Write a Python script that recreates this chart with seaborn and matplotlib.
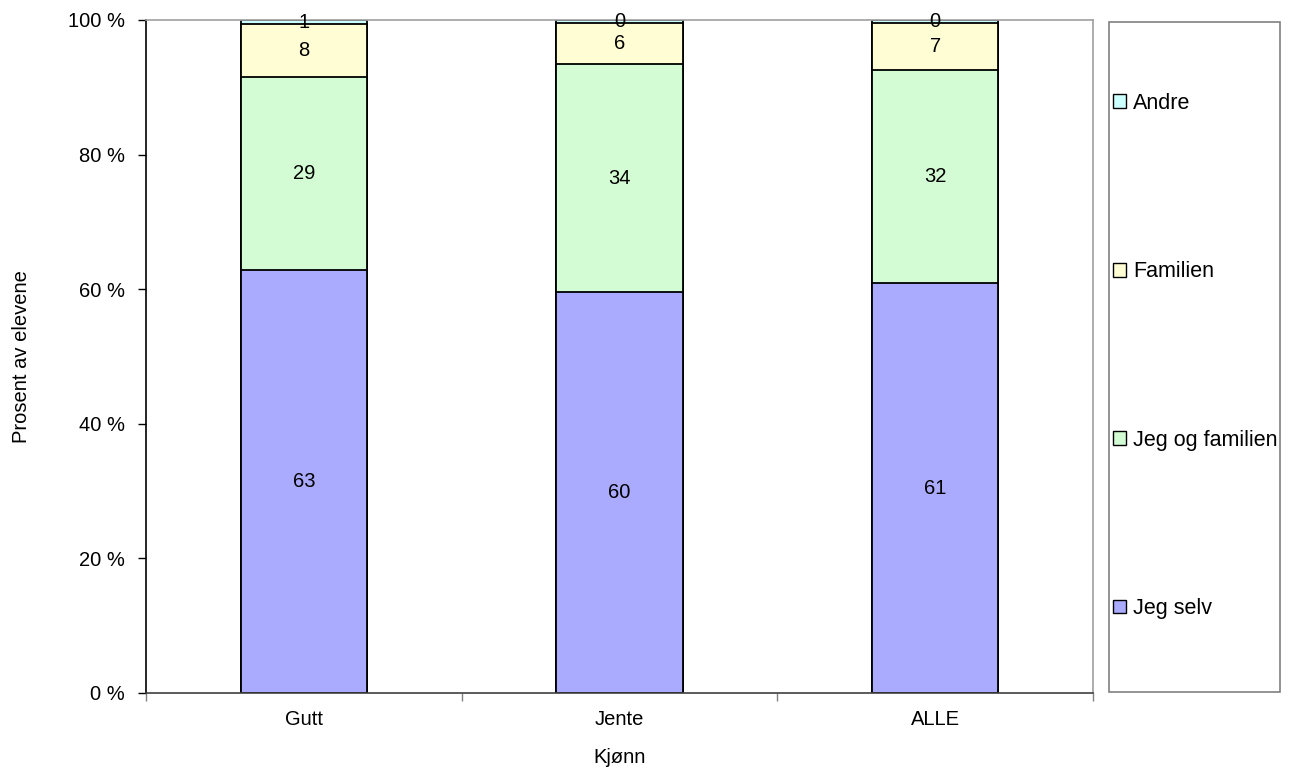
import matplotlib
matplotlib.use("Agg")
import matplotlib.pyplot as plt
from matplotlib.patches import Patch, Rectangle
import numpy as np
import pandas as pd
import seaborn as sns

# ---- data (percent of pupils) ----
categories = ["Gutt", "Jente", "ALLE"]
jeg_selv = [62.8, 59.6, 60.9]
jeg_og_familien = [28.8, 33.8, 31.7]
familien = [7.8, 6.2, 7.0]
andre = [0.6, 0.4, 0.4]

series_names = ["Jeg selv", "Jeg og familien", "Familien", "Andre"]
series_values = [jeg_selv, jeg_og_familien, familien, andre]
series_colors = ["#AAAAFF", "#D4FCD4", "#FFFDD4", "#CCFFFF"]

x_label = "Kjønn"
y_label = "Prosent av elevene"
y_ticks = [0, 20, 40, 60, 80, 100]
y_tick_labels = ["0 %", "20 %", "40 %", "60 %", "80 %", "100 %"]

sns.set_theme(style="white")
plt.rcParams["font.family"] = ["Liberation Sans", "DejaVu Sans"]
for key in ["text.color", "axes.labelcolor", "xtick.color", "ytick.color"]:
    plt.rcParams[key] = "black"
FS = 14.5

fig = plt.figure(figsize=(12.89, 7.73), dpi=100)
ax = fig.add_axes([146 / 1289, 1 - 693 / 773, (1093 - 146) / 1289, (693 - 20) / 773])

vals = np.array(series_values)
cums = np.cumsum(vals, axis=0)

# draw stacked bars: tallest cumulative first
for k in range(len(series_names) - 1, -1, -1):
    df = pd.DataFrame({"cat": categories, "val": cums[k]})
    sns.barplot(data=df, x="cat", y="val", order=categories, color=series_colors[k],
                saturation=1, width=0.4, edgecolor="black", linewidth=1.3, ax=ax, errorbar=None)

# labels centered in segments
for k in range(len(series_names)):
    for i in range(len(categories)):
        mid = cums[k][i] - vals[k][i] / 2
        ax.text(i, mid, f"{int(round(vals[k][i]))}", ha="center", va="center",
                fontsize=FS, color="black")

ax.set_xlim(-0.5, len(categories) - 0.5)
ax.set_ylim(0, 100)
ax.set_yticks(y_ticks)
ax.set_yticklabels(y_tick_labels, fontsize=FS)
ax.set_xticks(range(len(categories)))
ax.set_xticklabels(categories, fontsize=FS)
ax.set_xticks(np.arange(-0.5, len(categories), 1.0), minor=True)
ax.tick_params(axis="x", which="major", length=0, pad=12, labelcolor="black")
ax.tick_params(axis="x", which="minor", length=6, width=1, color="#808080", direction="out", bottom=True)
ax.tick_params(axis="y", which="major", length=6, width=1, color="black", direction="out", pad=9,
               left=True, labelcolor="black")
ax.set_xlabel(x_label, fontsize=FS, labelpad=14, color="black")
ax.set_ylabel(y_label, fontsize=FS, labelpad=27, color="black")

for s in ["top", "right"]:
    ax.spines[s].set_color("#A0A0A0")
    ax.spines[s].set_linewidth(1.2)
ax.spines["left"].set_color("black")
ax.spines["bottom"].set_color("#404040")
ax.spines["left"].set_linewidth(1.2)
ax.spines["bottom"].set_linewidth(1.2)

# legend box
fig.add_artist(Rectangle((1109 / 1289, 1 - 692 / 773), (1280 - 1109) / 1289, (692 - 22) / 773,
                         transform=fig.transFigure, facecolor="white", edgecolor="#808080", linewidth=1.2))
handles = [Patch(facecolor=series_colors[k], edgecolor="black", linewidth=1.0, label=series_names[k])
           for k in range(len(series_names) - 1, -1, -1)]
fig.legend(handles=handles, loc="center left", bbox_to_anchor=(1113 / 1289, 1 - 356 / 773),
           frameon=False, fontsize=15.5, handlelength=0.6, handleheight=0.6, handletextpad=0.35,
           labelspacing=6.85, borderpad=0, borderaxespad=0, labelcolor="black")

fig.savefig("out.png", dpi=100, facecolor="white")
